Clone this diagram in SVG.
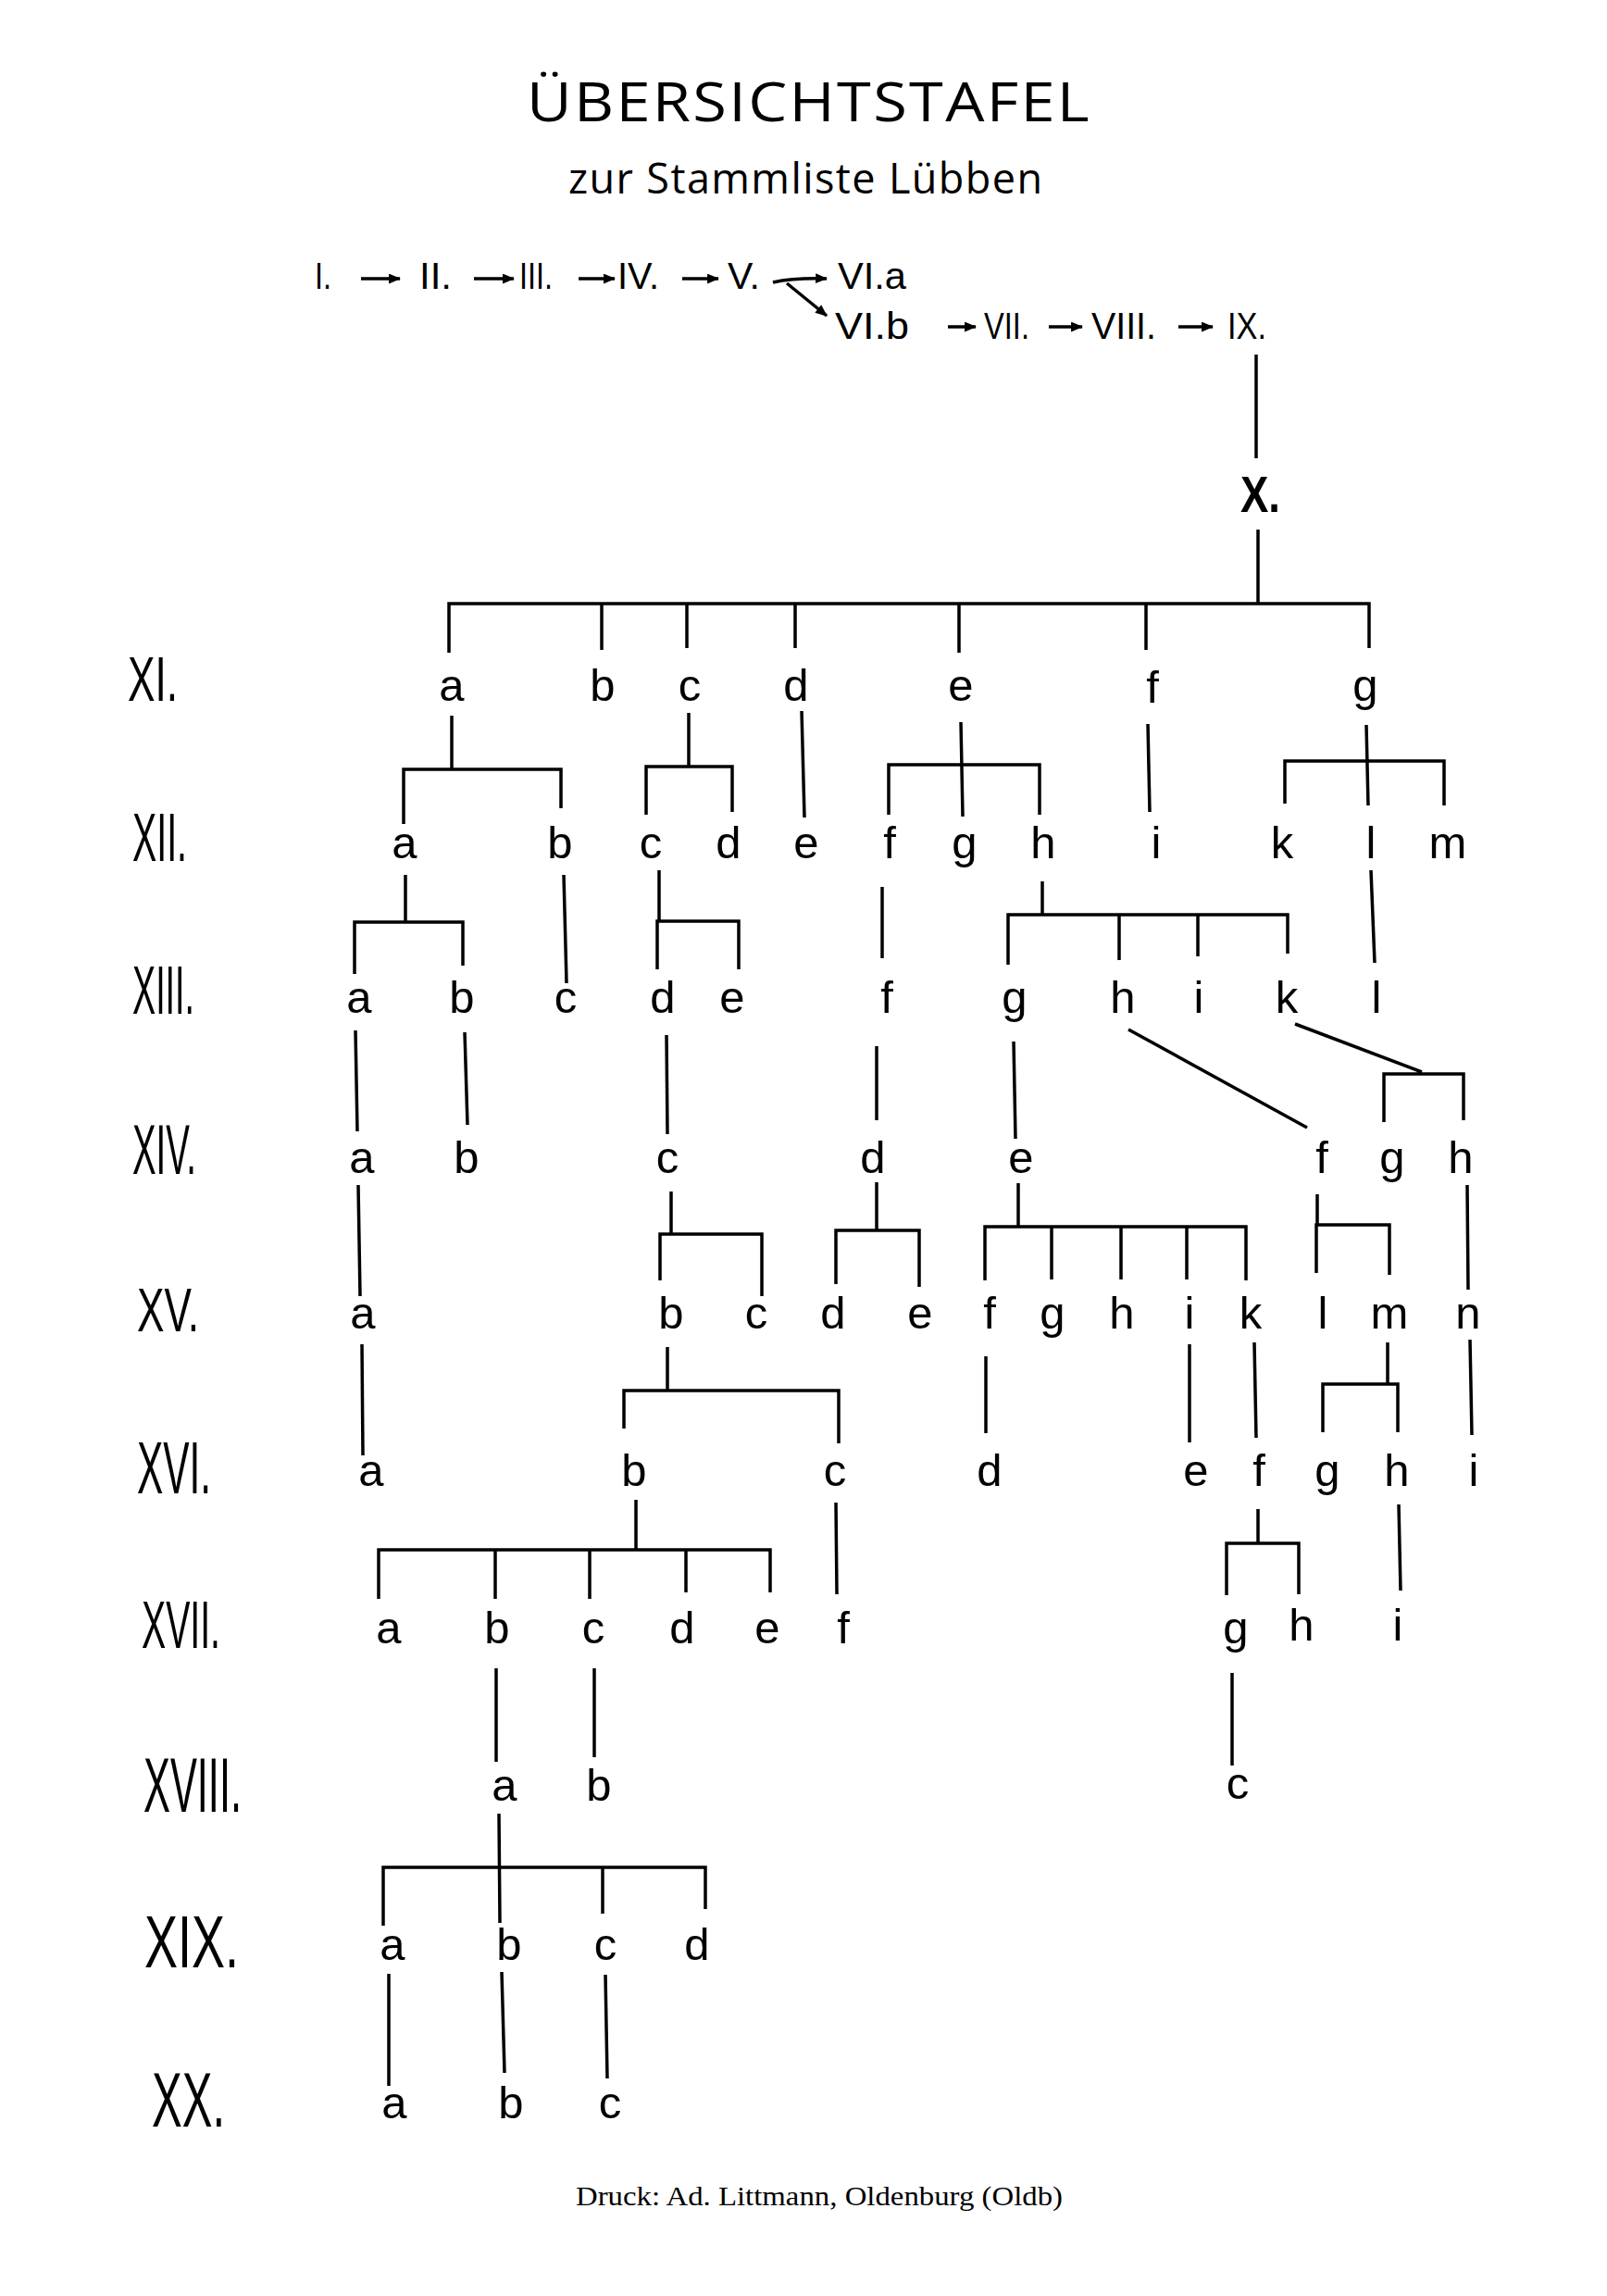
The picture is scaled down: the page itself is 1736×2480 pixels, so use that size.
<svg xmlns="http://www.w3.org/2000/svg" width="1736" height="2480" viewBox="0 0 1736 2480">
<defs>
<marker id="ah" viewBox="0 0 12 10" refX="11" refY="5" markerWidth="13" markerHeight="11" markerUnits="userSpaceOnUse" orient="auto">
<path d="M0,0 L12,5 L0,10 z" fill="#000"/>
</marker>
<style>
.bg{fill:#fff}
.ttl{font-family:"Open Sans","Liberation Sans",sans-serif;fill:#000}
.rom{font-family:"Liberation Sans Narrow","Liberation Sans",sans-serif;fill:#000}
.lt{font-family:"Liberation Sans","DejaVu Sans",sans-serif;font-size:49px;fill:#000;text-anchor:middle}
.ft{font-family:"Liberation Serif",serif;font-size:29px;fill:#000}
.ln{fill:none;stroke:#000;stroke-width:3.5;stroke-linecap:butt;stroke-linejoin:miter}
.ar{fill:none;stroke:#000;stroke-width:3.5;marker-end:url(#ah)}
</style>
</defs>
<rect class="bg" x="0" y="0" width="1736" height="2480"/>

<g id="title">
<text class="ttl" x="569" y="131" font-size="58" textLength="610" lengthAdjust="spacingAndGlyphs" letter-spacing="2">ÜBERSICHTSTAFEL</text>
<text class="ttl" x="614" y="209" font-size="45" textLength="512" lengthAdjust="spacing">zur Stammliste Lübben</text>
</g>

<g id="chain">
<g id="c-I"><text class="rom" x="340" y="312" font-size="41" textLength="18" lengthAdjust="spacingAndGlyphs">I.</text></g>
<g id="c-II"><text class="rom" x="453" y="312" font-size="41" textLength="35" lengthAdjust="spacingAndGlyphs">II.</text></g>
<g id="c-III"><text class="rom" x="561" y="312" font-size="41" textLength="36" lengthAdjust="spacingAndGlyphs">III.</text></g>
<g id="c-IV"><text class="rom" x="667" y="312" font-size="41" textLength="45" lengthAdjust="spacingAndGlyphs">IV.</text></g>
<g id="c-V"><text class="rom" x="786" y="312" font-size="41" textLength="35" lengthAdjust="spacingAndGlyphs">V.</text></g>
<g id="c-VIa"><text class="rom" x="905" y="312" font-size="41" textLength="74" lengthAdjust="spacingAndGlyphs">VI.a</text></g>
<g id="c-VIb"><text class="rom" x="902" y="366" font-size="41" textLength="80" lengthAdjust="spacingAndGlyphs">VI.b</text></g>
<g id="c-VII"><text class="rom" x="1063" y="366" font-size="41" textLength="49" lengthAdjust="spacingAndGlyphs">VII.</text></g>
<g id="c-VIII"><text class="rom" x="1179" y="366" font-size="41" textLength="70" lengthAdjust="spacingAndGlyphs">VIII.</text></g>
<g id="c-IX"><text class="rom" x="1326" y="366" font-size="41" textLength="42" lengthAdjust="spacingAndGlyphs">IX.</text></g>
<g id="c-X"><text x="1340" y="553" font-family="Liberation Sans, sans-serif" font-weight="bold" font-size="56" textLength="43" lengthAdjust="spacingAndGlyphs">X.</text></g>
</g>

<g id="generation-labels">
<g id="g-XI"><text class="rom" x="138" y="757" font-size="68" textLength="54" lengthAdjust="spacingAndGlyphs">XI.</text></g>
<g id="g-XII"><text class="rom" x="143" y="930" font-size="74" textLength="59" lengthAdjust="spacingAndGlyphs">XII.</text></g>
<g id="g-XIII"><text class="rom" x="143" y="1095" font-size="74" textLength="67" lengthAdjust="spacingAndGlyphs">XIII.</text></g>
<g id="g-XIV"><text class="rom" x="143" y="1268" font-size="76" textLength="69" lengthAdjust="spacingAndGlyphs">XIV.</text></g>
<g id="g-XV"><text class="rom" x="148" y="1438" font-size="67" textLength="67" lengthAdjust="spacingAndGlyphs">XV.</text></g>
<g id="g-XVI"><text class="rom" x="148" y="1613" font-size="80" textLength="80" lengthAdjust="spacingAndGlyphs">XVI.</text></g>
<g id="g-XVII"><text class="rom" x="153" y="1780" font-size="72" textLength="85" lengthAdjust="spacingAndGlyphs">XVII.</text></g>
<g id="g-XVIII"><text class="rom" x="155" y="1957" font-size="83" textLength="106" lengthAdjust="spacingAndGlyphs">XVIII.</text></g>
<g id="g-XIX"><text class="rom" x="156" y="2125" font-size="80" textLength="102" lengthAdjust="spacingAndGlyphs">XIX.</text></g>
<g id="g-XX"><text class="rom" x="164" y="2297" font-size="83" textLength="79" lengthAdjust="spacingAndGlyphs">XX.</text></g>
</g>

<g id="nodes">
<g id="n11a"><text class="lt" x="488" y="757">a</text></g>
<g id="n11b"><text class="lt" x="651" y="757">b</text></g>
<g id="n11c"><text class="lt" x="745" y="757">c</text></g>
<g id="n11d"><text class="lt" x="860" y="757">d</text></g>
<g id="n11e"><text class="lt" x="1038" y="757">e</text></g>
<g id="n11f"><text class="lt" x="1245" y="759">f</text></g>
<g id="n11g"><text class="lt" x="1475" y="757">g</text></g>

<g id="n12a"><text class="lt" x="437" y="927">a</text></g>
<g id="n12b"><text class="lt" x="605" y="927">b</text></g>
<g id="n12c"><text class="lt" x="703" y="927">c</text></g>
<g id="n12d"><text class="lt" x="787" y="927">d</text></g>
<g id="n12e"><text class="lt" x="871" y="927">e</text></g>
<g id="n12f"><text class="lt" x="961" y="927">f</text></g>
<g id="n12g"><text class="lt" x="1042" y="927">g</text></g>
<g id="n12h"><text class="lt" x="1127" y="927">h</text></g>
<g id="n12i"><text class="lt" x="1249" y="927">i</text></g>
<g id="n12k"><text class="lt" x="1385" y="927">k</text></g>
<g id="n12l"><text class="lt" x="1481" y="927">l</text></g>
<g id="n12m"><text class="lt" x="1564" y="927">m</text></g>

<g id="n13a"><text class="lt" x="388" y="1094">a</text></g>
<g id="n13b"><text class="lt" x="499" y="1094">b</text></g>
<g id="n13c"><text class="lt" x="611" y="1094">c</text></g>
<g id="n13d"><text class="lt" x="716" y="1094">d</text></g>
<g id="n13e"><text class="lt" x="791" y="1094">e</text></g>
<g id="n13f"><text class="lt" x="958" y="1094">f</text></g>
<g id="n13g"><text class="lt" x="1096" y="1094">g</text></g>
<g id="n13h"><text class="lt" x="1213" y="1094">h</text></g>
<g id="n13i"><text class="lt" x="1295" y="1094">i</text></g>
<g id="n13k"><text class="lt" x="1390" y="1094">k</text></g>
<g id="n13l"><text class="lt" x="1487" y="1094">l</text></g>

<g id="n14a"><text class="lt" x="391" y="1267">a</text></g>
<g id="n14b"><text class="lt" x="504" y="1267">b</text></g>
<g id="n14c"><text class="lt" x="721" y="1267">c</text></g>
<g id="n14d"><text class="lt" x="943" y="1267">d</text></g>
<g id="n14e"><text class="lt" x="1103" y="1267">e</text></g>
<g id="n14f"><text class="lt" x="1428" y="1267">f</text></g>
<g id="n14g"><text class="lt" x="1504" y="1267">g</text></g>
<g id="n14h"><text class="lt" x="1578" y="1267">h</text></g>

<g id="n15a"><text class="lt" x="392" y="1435">a</text></g>
<g id="n15b"><text class="lt" x="725" y="1435">b</text></g>
<g id="n15c"><text class="lt" x="817" y="1435">c</text></g>
<g id="n15d"><text class="lt" x="900" y="1435">d</text></g>
<g id="n15e"><text class="lt" x="994" y="1435">e</text></g>
<g id="n15f"><text class="lt" x="1069" y="1435">f</text></g>
<g id="n15g"><text class="lt" x="1137" y="1435">g</text></g>
<g id="n15h"><text class="lt" x="1212" y="1435">h</text></g>
<g id="n15i"><text class="lt" x="1285" y="1435">i</text></g>
<g id="n15k"><text class="lt" x="1351" y="1435">k</text></g>
<g id="n15l"><text class="lt" x="1429" y="1435">l</text></g>
<g id="n15m"><text class="lt" x="1501" y="1435">m</text></g>
<g id="n15n"><text class="lt" x="1586" y="1435">n</text></g>

<g id="n16a"><text class="lt" x="401" y="1605">a</text></g>
<g id="n16b"><text class="lt" x="685" y="1605">b</text></g>
<g id="n16c"><text class="lt" x="902" y="1605">c</text></g>
<g id="n16d"><text class="lt" x="1069" y="1605">d</text></g>
<g id="n16e"><text class="lt" x="1292" y="1605">e</text></g>
<g id="n16f"><text class="lt" x="1360" y="1605">f</text></g>
<g id="n16g"><text class="lt" x="1434" y="1605">g</text></g>
<g id="n16h"><text class="lt" x="1509" y="1605">h</text></g>
<g id="n16i"><text class="lt" x="1592" y="1605">i</text></g>

<g id="n17a"><text class="lt" x="420" y="1775">a</text></g>
<g id="n17b"><text class="lt" x="537" y="1775">b</text></g>
<g id="n17c"><text class="lt" x="641" y="1775">c</text></g>
<g id="n17d"><text class="lt" x="737" y="1775">d</text></g>
<g id="n17e"><text class="lt" x="829" y="1775">e</text></g>
<g id="n17f"><text class="lt" x="911" y="1775">f</text></g>
<g id="n17g"><text class="lt" x="1335" y="1775">g</text></g>
<g id="n17h"><text class="lt" x="1406" y="1772">h</text></g>
<g id="n17i"><text class="lt" x="1510" y="1772">i</text></g>

<g id="n18a"><text class="lt" x="545" y="1945">a</text></g>
<g id="n18b"><text class="lt" x="647" y="1945">b</text></g>
<g id="n18c"><text class="lt" x="1337" y="1943">c</text></g>

<g id="n19a"><text class="lt" x="424" y="2117">a</text></g>
<g id="n19b"><text class="lt" x="550" y="2117">b</text></g>
<g id="n19c"><text class="lt" x="654" y="2117">c</text></g>
<g id="n19d"><text class="lt" x="753" y="2117">d</text></g>

<g id="n20a"><text class="lt" x="426" y="2288">a</text></g>
<g id="n20b"><text class="lt" x="552" y="2288">b</text></g>
<g id="n20c"><text class="lt" x="659" y="2288">c</text></g>
</g>

<g id="connectors">
<path class="ar" d="M390,301 H432"/>
<path class="ar" d="M512,301 H555"/>
<path class="ar" d="M625,301 H664"/>
<path class="ar" d="M737,301 H776"/>
<path class="ar" d="M835,305 Q858,300 893,301"/>
<path class="ar" d="M850,306 L893,341"/>
<path class="ar" d="M1024,353 H1054"/>
<path class="ar" d="M1133,353 H1169"/>
<path class="ar" d="M1273,353 H1310"/>

<path class="ln" d="M1357,383 V495"/>
<path class="ln" d="M1359,572 V652"/>
<path class="ln" d="M485,705 V652 H1479 V700 M650,652 V702 M742,652 V700 M859,652 V700 M1036,652 V705 M1238,652 V702"/>

<path class="ln" d="M488,773 V831 M436,890 V831 H606 V873"/>
<path class="ln" d="M744,770 V828 M698,880 V828 H791 V877"/>
<path class="ln" d="M866,768 L869,883"/>
<path class="ln" d="M1038,780 L1040,882 M960,880 V826 H1123 V880"/>
<path class="ln" d="M1240,782 L1242,877"/>
<path class="ln" d="M1476,783 L1478,870 M1388,868 V822 H1560 V870"/>

<path class="ln" d="M438,945 V996 M383,1052 V996 H500 V1043"/>
<path class="ln" d="M609,945 L612,1062"/>
<path class="ln" d="M712,940 V995 M710,1047 V995 H798 V1047"/>
<path class="ln" d="M953,958 V1035"/>
<path class="ln" d="M1126,952 V988 M1089,1042 V988 H1391 V1030 M1209,988 V1037 M1294,988 V1033"/>
<path class="ln" d="M1481,940 L1485,1040"/>

<path class="ln" d="M384,1113 L386,1222"/>
<path class="ln" d="M502,1115 L505,1215"/>
<path class="ln" d="M720,1118 L721,1225"/>
<path class="ln" d="M947,1130 V1210"/>
<path class="ln" d="M1095,1125 L1097,1230"/>
<path class="ln" d="M1219,1112 L1412,1218"/>
<path class="ln" d="M1399,1106 L1536,1158 M1495,1212 V1160 H1581 V1210"/>

<path class="ln" d="M387,1280 L389,1400"/>
<path class="ln" d="M725,1287 V1333 M713,1383 V1333 H823 V1400"/>
<path class="ln" d="M947,1277 V1329 M903,1387 V1329 H993 V1390"/>
<path class="ln" d="M1100,1278 V1325 M1064,1383 V1325 H1346 V1383 M1136,1325 V1382 M1211,1325 V1382 M1282,1325 V1382"/>
<path class="ln" d="M1423,1290 V1323 M1422,1375 V1323 H1501 V1377"/>
<path class="ln" d="M1585,1280 L1586,1393"/>

<path class="ln" d="M391,1452 L392,1572"/>
<path class="ln" d="M721,1455 V1502 M674,1543 V1502 H906 V1559"/>
<path class="ln" d="M1065,1465 V1548"/>
<path class="ln" d="M1285,1452 V1558"/>
<path class="ln" d="M1355,1450 L1357,1553"/>
<path class="ln" d="M1499,1450 V1495 M1429,1547 V1495 H1510 V1547"/>
<path class="ln" d="M1588,1447 L1590,1550"/>

<path class="ln" d="M687,1620 V1674 M409,1727 V1674 H832 V1720 M535,1674 V1727 M637,1674 V1727 M741,1674 V1720"/>
<path class="ln" d="M903,1623 L904,1722"/>
<path class="ln" d="M1359,1630 V1667 M1325,1723 V1667 H1403 V1722"/>
<path class="ln" d="M1511,1625 L1513,1718"/>

<path class="ln" d="M536,1802 V1903"/>
<path class="ln" d="M642,1802 V1898"/>
<path class="ln" d="M1331,1807 V1907"/>

<path class="ln" d="M539,1959 L540,2077 M414,2080 V2017 H762 V2062 M651,2017 V2067"/>

<path class="ln" d="M420,2132 V2253"/>
<path class="ln" d="M542,2130 L545,2239"/>
<path class="ln" d="M654,2133 L656,2245"/>
</g>

<g id="footer">
<text class="ft" x="622" y="2382" textLength="526" lengthAdjust="spacingAndGlyphs">Druck: Ad. Littmann, Oldenburg (Oldb)</text>
</g>
</svg>
